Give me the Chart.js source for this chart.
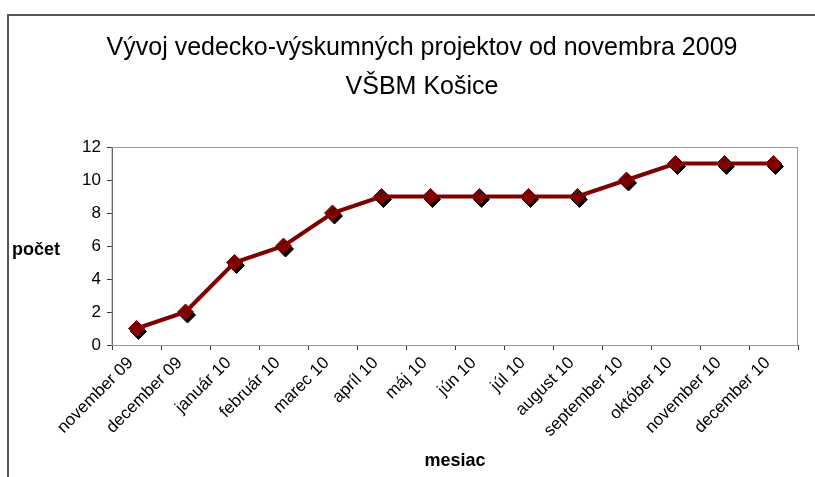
<!DOCTYPE html>
<html>
<head>
<meta charset="utf-8">
<script src="https://cdn.jsdelivr.net/npm/chart.js@4"></script>
<style>
  body { margin: 0; background: #fff; }
  #wrap { width: 815px; height: 477px; }
</style>
</head>
<body>
<div id="wrap"><canvas id="projChart" width="815" height="477"></canvas></div>
<script>
// mesiace a pocet projektov
const mesiace = ['november 09', 'december 09', 'január 10', 'február 10', 'marec 10', 'apríl 10', 'máj 10',
                 'jún 10', 'júl 10', 'august 10', 'september 10', 'október 10', 'november 10', 'december 10'];
const pocet = [1, 2, 5, 6, 8, 9, 9, 9, 9, 9, 10, 11, 11, 11];
const yTicks = [0, 2, 4, 6, 8, 10, 12];

const farba = '#800000';
const pismo = "'Liberation Sans', Arial, sans-serif";

// ramik, okraj grafu a popis osi y
const ramik = {
    id: 'ramik',
    beforeDraw(chart) {
        const c = chart.ctx;
        c.save();
        c.fillStyle = '#fff';
        c.fillRect(0, 0, chart.width, chart.height);
        c.strokeStyle = '#555';
        c.lineWidth = 2;
        c.beginPath();
        c.moveTo(8, 477);
        c.lineTo(8, 15);
        c.lineTo(815, 15);
        c.stroke();
        c.restore();
    },
    beforeDatasetsDraw(chart) {
        const a = chart.chartArea, c = chart.ctx;
        c.save();
        c.strokeStyle = '#9a9a9a';
        c.lineWidth = 1;
        c.strokeRect(a.left, a.top + 0.5, a.right - a.left - 0.5, a.bottom - a.top);
        c.fillStyle = '#000';
        c.font = 'bold 18px ' + pismo;
        c.textBaseline = 'middle';
        c.fillText('počet', 12, 250);
        c.restore();
    },
    beforeDatasetDraw(chart, args) {
        if (args.index === 1) {
            const c = chart.ctx;
            c.save();
            c.shadowColor = '#000';
            c.shadowOffsetX = 2;
            c.shadowOffsetY = 3;
            c.shadowBlur = 0;
        }
    },
    afterDatasetDraw(chart, args) {
        if (args.index === 1) chart.ctx.restore();
    }
};

new Chart(document.getElementById('projChart'), {
    type: 'line',
    data: {
        labels: mesiace,
        datasets: [
            {
                data: pocet,
                borderColor: farba,
                borderWidth: 4,
                pointRadius: 0,
                tension: 0
            },
            {
                data: pocet,
                showLine: false,
                pointStyle: 'rectRot',
                pointRadius: 8,
                pointBackgroundColor: farba,
                pointBorderColor: farba,
                pointBorderWidth: 1
            }
        ]
    },
    options: {
        responsive: false,
        animation: false,
        layout: { padding: { left: 46, right: 17, top: 19, bottom: 0 } },
        plugins: {
            legend: { display: false },
            tooltip: { enabled: false },
            title: {
                display: true,
                text: ['Vývoj vedecko-výskumných projektov od novembra 2009', 'VŠBM Košice'],
                color: '#000',
                font: { family: pismo, size: 25, weight: 'normal', lineHeight: 1.54 },
                padding: { top: 10, bottom: 41 }
            }
        },
        scales: {
            x: {
                offset: true,
                grid: { offset: true, drawOnChartArea: false, tickLength: 5, color: '#333' },
                border: { color: '#333', width: 1 },
                ticks: {
                    color: '#000',
                    font: { family: pismo, size: 17 },
                    minRotation: 45,
                    maxRotation: 45,
                    autoSkip: false,
                    labelOffset: -6
                },
                title: {
                    display: true,
                    text: 'mesiac',
                    color: '#000',
                    font: { family: pismo, size: 18, weight: 'bold' },
                    padding: { top: 0, bottom: 5 }
                },
                afterFit(scale) { scale.height = 132; }
            },
            y: {
                min: 0,
                max: 12,
                grid: { drawOnChartArea: false, tickLength: 5, color: '#333' },
                border: { color: '#333', width: 1 },
                afterBuildTicks(scale) { scale.ticks = yTicks.map(v => ({ value: v })); },
                ticks: {
                    color: '#000',
                    font: { family: pismo, size: 17 },
                    padding: 6
                },
                afterFit(scale) { scale.width = 66; }
            }
        }
    },
    plugins: [ramik]
});
</script>
</body>
</html>
